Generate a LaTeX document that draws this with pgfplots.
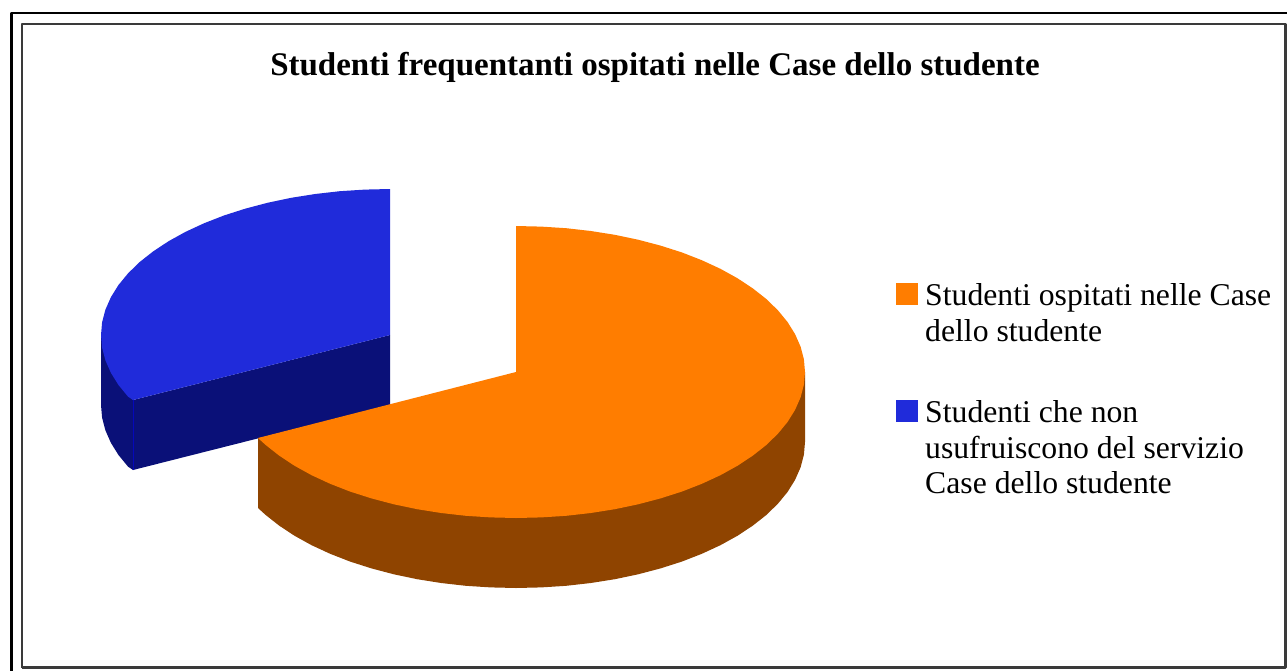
\documentclass[border=0pt]{standalone}
\usepackage{fontspec}
\setmainfont{Liberation Serif}
\usepackage{pgfplots}
\pgfplotsset{compat=1.18}
\definecolor{orangetop}{HTML}{FF7D00}
\definecolor{orangeside}{HTML}{8F4400}
\definecolor{bluetop}{HTML}{202BDA}
\definecolor{blueside}{HTML}{0A1078}
\definecolor{frameg}{HTML}{3A3A3A}
\begin{document}
\begin{tikzpicture}
\begin{axis}[
  at={(0pt,0pt)}, anchor=south west,
  width=1287pt, height=670pt, scale only axis,
  xmin=0, xmax=1287, ymin=0, ymax=670, y dir=reverse,
  hide axis, clip=true, no markers,
  every axis plot/.append style={line join=round},
]
% page
\addplot[fill=white, draw=none] coordinates {(0,0) (1287,0) (1287,670) (0,670)} -- cycle;
% frames
\addplot[draw=black, line width=2.6pt] coordinates {(11.5,680) (11.5,13) (1297,13)};
\addplot[draw=frameg, line width=2.2pt] coordinates {(22,667.5) (22,24) (1285.5,24) (1285.5,667.5) (22,667.5)};
% blue wedge: side
\addplot[fill=blueside, draw=none] coordinates {(101,335) (101,405) (102.1,417.7) (105.4,430.3) (110.9,442.8) (118.4,454.9) (128.1,466.7) (133,470) (133,400)} -- cycle;
% blue wedge: cut face
\addplot[fill=blueside, draw=none] coordinates {(133,400) (390,335) (390,405) (133,470)} -- cycle;
\addplot[draw=blue!50!blueside, line width=0.7pt] coordinates {(133,400) (133,470)};
% blue wedge: top
\addplot[fill=bluetop, draw=none] coordinates {
(390,335) (390,189) (364.8,189.6) (339.8,191.2) (315.2,194) (291.2,197.8) (267.9,202.7)
(245.5,208.6) (224.2,215.4) (204.2,223.2) (185.6,231.8) (168.6,241.2) (153.3,251.3)
(139.7,262) (128.1,273.3) (118.4,285.1) (110.9,297.2) (105.4,309.7) (102.1,322.3)
(101,335) (102.1,347.7) (105.4,360.3) (110.9,372.8) (118.4,384.9) (128.1,396.7) (133,400)
} -- cycle;
% orange wedge: side
\addplot[fill=orangeside, draw=none] coordinates {
(805,372) (805,442) (803.9,454.7) (800.6,467.3) (795.1,479.8) (787.6,491.9) (777.9,503.7)
(766.3,515) (752.7,525.7) (737.4,535.8) (720.4,545.2) (701.8,553.8) (681.8,561.6)
(660.5,568.4) (638.1,574.3) (614.8,579.2) (590.8,583) (566.2,585.8) (541.2,587.4)
(516,588) (490.8,587.4) (465.8,585.8) (441.2,583) (417.2,579.2) (393.9,574.3)
(371.5,568.4) (350.2,561.6) (330.2,553.8) (311.6,545.2) (294.6,535.8) (279.3,525.7)
(265.7,515) (258,508) (258,438)
} -- cycle;
% orange wedge: top
\addplot[fill=orangetop, draw=none] coordinates {
(516,372) (516,226) (541.2,226.6) (566.2,228.2) (590.8,231) (614.8,234.8) (638.1,239.7)
(660.5,245.6) (681.8,252.4) (701.8,260.2) (720.4,268.8) (737.4,278.2) (752.7,288.3)
(766.3,299) (777.9,310.3) (787.6,322.1) (795.1,334.2) (800.6,346.7) (803.9,359.3)
(805,372) (803.9,384.7) (800.6,397.3) (795.1,409.8) (787.6,421.9) (777.9,433.7)
(766.3,445) (752.7,455.7) (737.4,465.8) (720.4,475.2) (701.8,483.8) (681.8,491.6)
(660.5,498.4) (638.1,504.3) (614.8,509.2) (590.8,513) (566.2,515.8) (541.2,517.4)
(516,518) (490.8,517.4) (465.8,515.8) (441.2,513) (417.2,509.2) (393.9,504.3)
(371.5,498.4) (350.2,491.6) (330.2,483.8) (311.6,475.2) (294.6,465.8) (279.3,455.7)
(265.7,445) (258,438)
} -- cycle;
% legend keys
\addplot[fill=orangetop, draw=none] coordinates {(896,283) (918,283) (918,305) (896,305)} -- cycle;
\addplot[fill=bluetop, draw=none] coordinates {(896,400) (918,400) (918,422) (896,422)} -- cycle;
% text
\node[anchor=base, inner sep=0pt, font=\fontsize{33}{33}\selectfont\bfseries] at (axis cs:655,75) {Studenti frequentanti ospitati nelle Case dello studente};
\node[anchor=base west, inner sep=0pt, font=\fontsize{31.7}{36}\selectfont] at (axis cs:925,305) {Studenti ospitati nelle Case};
\node[anchor=base west, inner sep=0pt, font=\fontsize{31.7}{36}\selectfont] at (axis cs:925,341) {dello studente};
\node[anchor=base west, inner sep=0pt, font=\fontsize{31.7}{36}\selectfont] at (axis cs:925,422) {Studenti che non};
\node[anchor=base west, inner sep=0pt, font=\fontsize{31.7}{36}\selectfont] at (axis cs:925,458) {usufruiscono del servizio};
\node[anchor=base west, inner sep=0pt, font=\fontsize{31.7}{36}\selectfont] at (axis cs:925,493) {Case dello studente};
\end{axis}
\end{tikzpicture}
\end{document}
